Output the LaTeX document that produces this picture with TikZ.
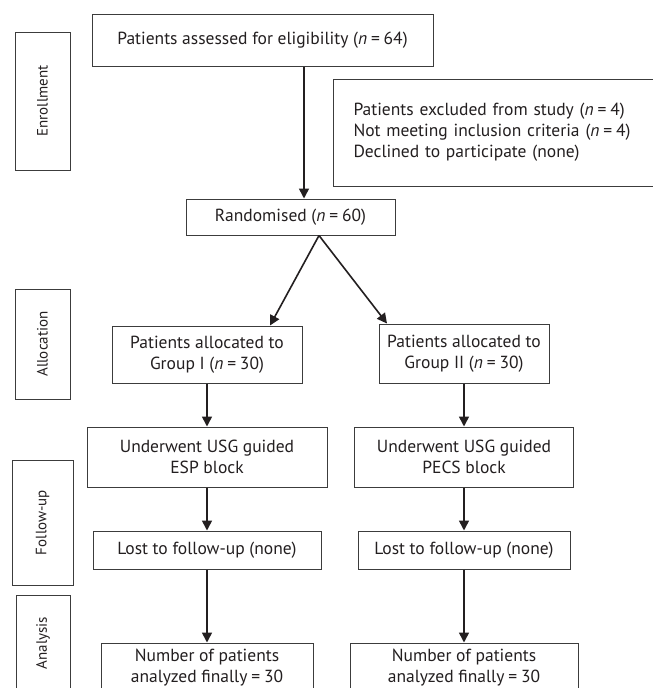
\documentclass[tikz,border=0pt]{standalone}
\usepackage{fontspec}
\setmainfont{PT Sans}
\usetikzlibrary{arrows.meta,positioning}
\definecolor{flowink}{HTML}{231F20}
\definecolor{flowline}{HTML}{3C3C3C}
\newcommand{\eqsp}{\hspace{0.22em}=\hspace{0.22em}}
\tikzset{
  bx/.style={draw=flowline, line width=1pt, align=center, inner sep=0pt, text=flowink},
  stage/.style={bx, rotate=90, font=\fontsize{15}{18}\selectfont},
  arr/.style={-{Triangle[length=10pt,width=10pt]}, line width=1.6pt, color=flowink},
}
\begin{document}
\begin{tikzpicture}[x=1pt, y=-1pt, font=\fontsize{17.5}{21}\selectfont, node distance=43pt]
      \path[use as bounding box, fill=white] (0,0) rectangle (653,688);
      \clip (0,0) rectangle (653,688);
      \node[stage, minimum width=138pt, minimum height=55pt] (enroll) at (42.5,101) {Enrollment};
      \node[stage, minimum width=110pt, minimum height=55pt] (alloc) at (42.5,344) {Allocation};
      \node[stage, minimum width=125pt, minimum height=61pt] (follow) at (42.5,522.5) {Follow-up};
      \node[stage, minimum width=96pt, minimum height=54pt] (analysis) at (43,643) {Analysis};
      \node[bx, minimum width=341pt, minimum height=52pt] (assess) at (262.5,40) {Patients assessed for eligibility (\textit{n}\eqsp64)};
      \node[bx, anchor=west, align=left, text width=310pt, inner xsep=20pt, minimum height=107pt] (excl) at (333,132.5) {Patients excluded from study (\textit{n}\eqsp4)\\Not meeting inclusion criteria (\textit{n}\eqsp4)\\Declined to participate (none)};
      \node[bx, minimum width=209pt, minimum height=36pt] (rand) at (290.5,217) {Randomised (\textit{n}\eqsp60)};
      \coordinate (trunk) at (304,0);
      \node[bx, minimum width=190pt, minimum height=57pt] (g1) at (207,354.5) {Patients allocated to\\Group I (\textit{n}\eqsp30)};
      \node[bx, minimum width=170pt, minimum height=59pt] (g2) at (464,353.5) {Patients allocated to\\Group II (\textit{n}\eqsp30)};
      \node[bx, minimum width=240pt, minimum height=60pt, below=of g1] (esp) {Underwent USG guided\\ESP block};
      \node[bx, minimum width=219pt, minimum height=60pt, below=of g2] (pecs) {Underwent USG guided\\PECS block};
      \node[bx, minimum width=228pt, minimum height=38pt, below=of esp] (lost1) {Lost to follow-up (none)};
      \node[bx, minimum width=212pt, minimum height=38pt, below=of pecs] (lost2) {Lost to follow-up (none)};
      \node[bx, minimum width=212pt, minimum height=50pt, below=73pt of lost1] (num1) {Number of patients\\analyzed finally\eqsp30};
      \node[bx, minimum width=228pt, minimum height=50pt, below=73pt of lost2] (num2) {Number of patients\\analyzed finally\eqsp30};
      \draw[arr] (assess.south -| trunk) -- (rand.north -| trunk);
      \draw[arr] ([xshift=28.5pt]rand.south) -- ([xshift=63pt]g1.north); \draw[arr] ([xshift=28.5pt]rand.south) -- ([xshift=-77pt]g2.north);
      \draw[arr] (g1) -- (esp); \draw[arr] (esp) -- (lost1); \draw[arr] (lost1) -- (num1);
      \draw[arr] (g2) -- (pecs); \draw[arr] (pecs) -- (lost2); \draw[arr] (lost2) -- (num2);
    \end{tikzpicture}
\end{document}
